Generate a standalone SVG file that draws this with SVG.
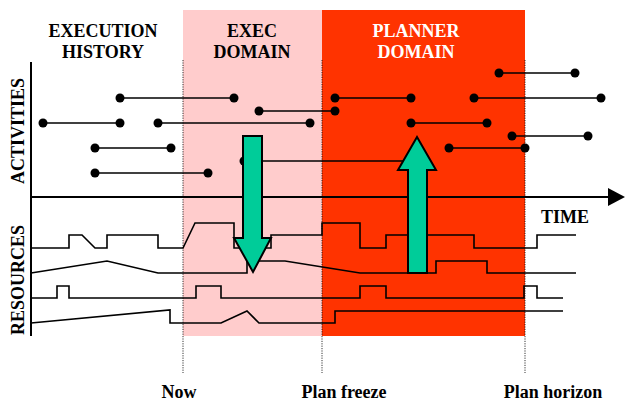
<svg xmlns="http://www.w3.org/2000/svg" width="627" height="405" viewBox="0 0 627 405">
<style>
.t{font-family:"Liberation Serif","Times New Roman",serif;font-weight:bold;font-size:18px;text-anchor:middle;fill:#000}
.w{fill:#fff}
.dot{stroke:#000;stroke-width:0.8;stroke-dasharray:1.2,1.2;fill:none}
.act line{stroke:#000;stroke-width:1.6}
.act circle{fill:#000}
.res{fill:none;stroke:#000;stroke-width:1.6;stroke-linejoin:miter}
.arr{fill:#00CC99;stroke:#000;stroke-width:2}
</style>
<rect width="627" height="405" fill="#fff"/>
<g id="exec-domain"><rect x="183" y="10" width="139" height="326" fill="#FFCCCC"/></g>
<g id="planner-domain"><rect x="322" y="10" width="203" height="326" fill="#FF3300"/></g>
<g id="markers">
<line class="dot" x1="183" y1="60" x2="183" y2="373"/>
<line class="dot" x1="322" y1="60" x2="322" y2="373"/>
<line class="dot" x1="525" y1="60" x2="525" y2="373"/>
</g>
<g id="labels">
<text class="t" x="103" y="37">EXECUTION</text>
<text class="t" x="103" y="58">HISTORY</text>
<text class="t" x="252" y="37">EXEC</text>
<text class="t" x="252" y="58">DOMAIN</text>
<text class="t w" x="416" y="37">PLANNER</text>
<text class="t w" x="416" y="58">DOMAIN</text>
<text class="t" transform="translate(24,131) rotate(-90)">ACTIVITIES</text>
<text class="t" transform="translate(24,280) rotate(-90)">RESOURCES</text>
<text class="t" x="565" y="223">TIME</text>
<text class="t" x="179" y="398">Now</text>
<text class="t" x="344" y="398">Plan freeze</text>
<text class="t" x="553" y="398">Plan horizon</text>
</g>
<g id="connectors">
<g id="activities" class="act">
<line x1="120" y1="98" x2="234" y2="98"/><circle cx="120" cy="98" r="4.5"/><circle cx="234" cy="98" r="4.5"/>
<line x1="259" y1="111" x2="335" y2="111"/><circle cx="259" cy="111" r="4.5"/><circle cx="335" cy="111" r="4.5"/>
<line x1="43" y1="123" x2="120" y2="123"/><circle cx="43" cy="123" r="4.5"/><circle cx="120" cy="123" r="4.5"/>
<line x1="158" y1="123" x2="310" y2="123"/><circle cx="158" cy="123" r="4.5"/><circle cx="310" cy="123" r="4.5"/>
<line x1="95" y1="148" x2="171" y2="148"/><circle cx="95" cy="148" r="4.5"/><circle cx="171" cy="148" r="4.5"/>
<line x1="95" y1="173" x2="208" y2="173"/><circle cx="95" cy="173" r="4.5"/><circle cx="208" cy="173" r="4.5"/>
<line x1="244" y1="161" x2="416" y2="161"/><circle cx="244" cy="161" r="4.5"/><circle cx="416" cy="161" r="4.5"/>
<line x1="499" y1="73" x2="575" y2="73"/><circle cx="499" cy="73" r="4.5"/><circle cx="575" cy="73" r="4.5"/>
<line x1="335" y1="98" x2="411" y2="98"/><circle cx="335" cy="98" r="4.5"/><circle cx="411" cy="98" r="4.5"/>
<line x1="474" y1="98" x2="601" y2="98"/><circle cx="474" cy="98" r="4.5"/><circle cx="601" cy="98" r="4.5"/>
<line x1="411" y1="123" x2="487" y2="123"/><circle cx="411" cy="123" r="4.5"/><circle cx="487" cy="123" r="4.5"/>
<line x1="512" y1="136" x2="588" y2="136"/><circle cx="512" cy="136" r="4.5"/><circle cx="588" cy="136" r="4.5"/>
<line x1="449" y1="148" x2="525" y2="148"/><circle cx="449" cy="148" r="4.5"/><circle cx="525" cy="148" r="4.5"/>
</g>
<g id="axes">
<line x1="31" y1="62" x2="31" y2="336" stroke="#000" stroke-width="2"/>
<line x1="31" y1="197" x2="610" y2="197" stroke="#000" stroke-width="2"/>
<polygon points="608,188 625,197 608,206" fill="#000"/>
</g>
<g id="resources">
<polyline class="res" points="31,248 69,248 69,235 82,235 95,248 107,248 107,235 158,235 158,248 183,248 195,223 234,223 234,248 271,248 271,235 322,235 322,223 360,223 360,248 386,248 386,235 474,235 474,248 537,248 537,235 576,235"/>
<polyline class="res" points="31,273 107,261 158,273 247,273 247,261 285,261 360,273 436,273 436,261 487,261 487,273 576,273"/>
<polyline class="res" points="31,298 57,298 57,286 69,286 69,298 196,298 196,286 221,286 221,298 360,298 360,286 386,286 386,298 524,298 524,286 537,286 537,298 563,298"/>
<polyline class="res" points="31,323 170,310 170,323 221,323 247,311 259,323 335,323 335,311 563,311"/>
</g>
</g>
<g id="down-arrow"><polygon class="arr" points="243,136 262,136 262,238 271,238 253,272 234,238 243,238"/></g>
<g id="up-arrow"><polygon class="arr" points="417,137 436,170 427,170 427,273 408,273 408,170 398,170"/></g>
</svg>
